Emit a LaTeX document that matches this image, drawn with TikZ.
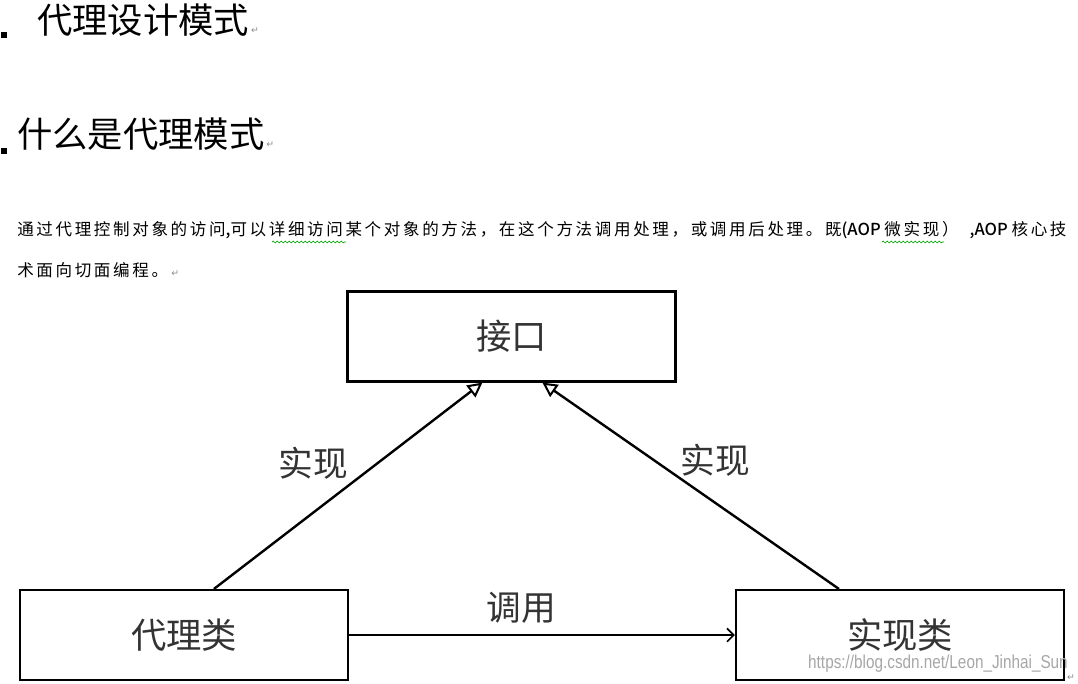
\documentclass[tikz,border=0pt]{standalone}
\usepackage{fontspec}
\setmainfont{Liberation Sans}
\newfontfamily\cjk{Noto Sans CJK SC}
\newfontfamily\cjkpara[LetterSpace=16]{Noto Sans CJK SC}
\newfontfamily\latpara{Noto Sans CJK SC Medium}
\newfontfamily\symfont{DejaVu Sans}
\usetikzlibrary{arrows.meta,decorations.pathmorphing,calc}
\begin{document}
\begin{tikzpicture}[x=0.75pt,y=-0.75pt,
  heading/.style={anchor=west,inner sep=0,font=\cjk\fontsize{26.5pt}{30pt}\selectfont},
  para/.style={anchor=west,inner sep=0,font=\cjkpara\fontsize{12.4pt}{14pt}\selectfont},
  bullet/.style={fill=black,minimum size=4.5pt,inner sep=0},
  pmark/.style={inner sep=0,text=black!45,font=\symfont\fontsize{7pt}{8pt}\selectfont},
  box/.style={draw=black,line width=1.6pt,minimum width=246pt,minimum height=67.5pt,inner sep=0,
    text=black!80,font=\cjk\fontsize{26.5pt}{30pt}\selectfont},
  lbl/.style={inner sep=0,text=black!80,font=\cjk\fontsize{26pt}{30pt}\selectfont},
  impl/.style={line width=1.8pt,-{Triangle[open,length=11pt,width=11pt,fill=white,line width=1.5pt]}},
  call/.style={line width=1.9pt,-{Straight Barb[length=5pt,width=10pt,line width=1.3pt]}},
  wavy/.style={green!65!black,line width=0.5pt,decorate,decoration={snake,amplitude=0.7pt,segment length=3pt}},
  wm/.style={inner sep=0,anchor=east,text=black!35,font=\fontsize{14pt}{15pt}\selectfont,xscale=0.82}
]
\useasboundingbox (0,0) rectangle (1078,683);
% headings
\node[bullet] (b1) at (4,35) {};
\node[heading] (h1) at (37,20) {代理设计模式};
\node[pmark,anchor=base west] (pm1) at ([xshift=1pt]h1.base east) {↵};
\node[bullet] (b2) at (4,151) {};
\node[heading] (h2) at (17,134) {什么是代理模式};
\node[pmark,anchor=base west] (pm2) at ([xshift=1pt]h2.base east) {↵};
% paragraph
\node[para] (l1) at (17,230) {通过代理控制对象的访问{\latpara,}可以详细访问某个对象的方法，在这个方法调用处理，或调用后处理。既{\latpara(AOP }微实现）{\latpara\ \ \ ,AOP }核心技};
\node[para] (l2) at (17,270) {术面向切面编程。};
\node[pmark,anchor=base west] (pm3) at ([xshift=2pt]l2.base east) {↵};
\draw[wavy] (272,242) -- (346,242);
\draw[wavy] (882,242) -- (944,242);
% diagram
\node[box] (iface) at (511.5,336.5) {接口};
\node[box] (proxy) at (184,635) {代理类};
\node[box] (real) at (900,635) {实现类};
\draw[impl] ($(proxy.north west)+(195,0)$) -- ($(iface.south west)+(136,0)$);
\draw[impl] ($(real.north west)+(104,0)$) -- ($(iface.south west)+(196,0)$);
\draw[call] (proxy.east) -- (real.west);
\node[lbl] (t1) at (313,463) {实现};
\node[lbl] (t2) at (715,460) {实现};
\node[lbl] (t3) at (521,608) {调用};
% watermark
\node[wm] (wmk) at (1068,664) {https://blog.csdn.net/Leon\_Jinhai\_Sun};
\node[pmark] (pm4) at (1071,678) {↵};
\end{tikzpicture}
\end{document}
